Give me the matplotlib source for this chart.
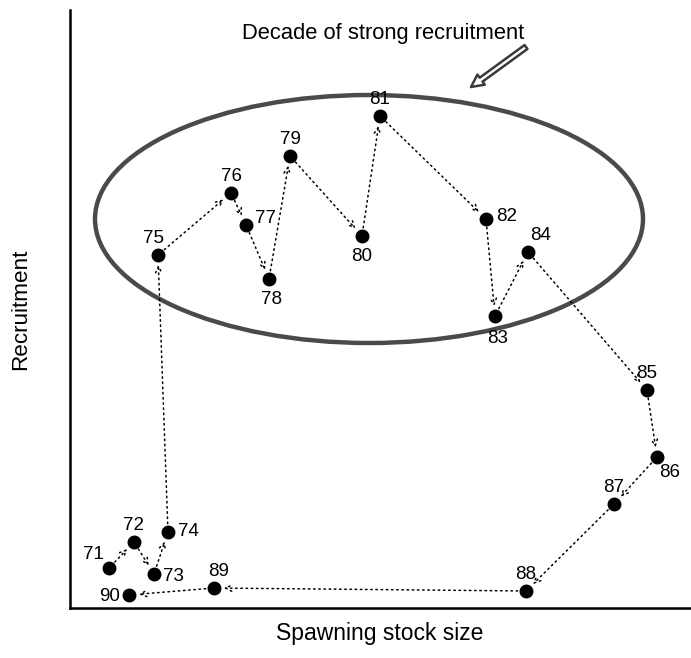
import matplotlib
matplotlib.use("Agg")
import matplotlib.pyplot as plt
from matplotlib.patches import Ellipse

years = ["71","72","73","74","75","76","77","78","79","80",
         "81","82","83","84","85","86","87","88","89","90"]
stock = [39, 64, 84, 98, 88, 161, 176, 199, 220, 292,
         310, 416, 425, 458, 577, 587, 544, 456, 144, 59]
recruit = [40, 66, 34, 76, 353, 415, 383, 329, 452, 372,
           492, 389, 292, 356, 218, 151, 104, 17, 20, 13]
# label offsets (points) relative to each dot
label_off = [(-11, 10), (0, 12), (14, -2), (15, 0), (-3, 12), (0, 12), (14, 5), (2, -15),
             (0, 12), (0, -15), (0, 12), (15, 2), (2, -16), (9, 12), (0, 12), (9, -11),
             (0, 12), (0, 12), (3, 12), (-14, -1)]

fig = plt.figure(figsize=(6.91, 6.58), dpi=100)
ax = fig.add_axes([70/691, 50/658, 620/691, 598/658])
ax.set_xlim(0, 620)
ax.set_ylim(0, 598)
for s in ["top", "right"]:
    ax.spines[s].set_visible(False)
for s in ["left", "bottom"]:
    ax.spines[s].set_linewidth(1.8)
ax.set_xticks([])
ax.set_yticks([])

# ellipse
ell = Ellipse((299, 389), 548, 248, fill=False, edgecolor="#4a4a4a", linewidth=3.2)
ax.add_patch(ell)

# dotted arrows between consecutive years
for i in range(len(years) - 1):
    ax.annotate("", xy=(stock[i+1], recruit[i+1]), xytext=(stock[i], recruit[i]),
                arrowprops=dict(arrowstyle="->,head_length=0.45,head_width=0.22",
                                linestyle=(0, (1, 2.4)), color="black", lw=1.1,
                                shrinkA=6, shrinkB=7))

ax.plot(stock, recruit, "o", color="black", markersize=9, zorder=5)

for y, xv, rv, off in zip(years, stock, recruit, label_off):
    ax.annotate(y, (xv, rv), xytext=off, textcoords="offset points",
                ha="center", va="center", fontsize=13.5, family="Liberation Sans")

ax.text(313, 574, "Decade of strong recruitment", ha="center", va="center",
        fontsize=15.8, family="Liberation Sans")
ax.annotate("", xy=(401, 521), xytext=(456, 561),
            arrowprops=dict(arrowstyle="simple,head_length=0.9,head_width=0.9,tail_width=0.35",
                            facecolor="white", edgecolor="#3a3a3a", lw=1.8,
                            shrinkA=0, shrinkB=0))

ax.set_xlabel("Spawning stock size", fontsize=16.5, family="Liberation Sans", labelpad=10)
ax.set_ylabel("Recruitment", fontsize=16.2, family="Liberation Sans", labelpad=28)

fig.savefig("out.png", dpi=100)
